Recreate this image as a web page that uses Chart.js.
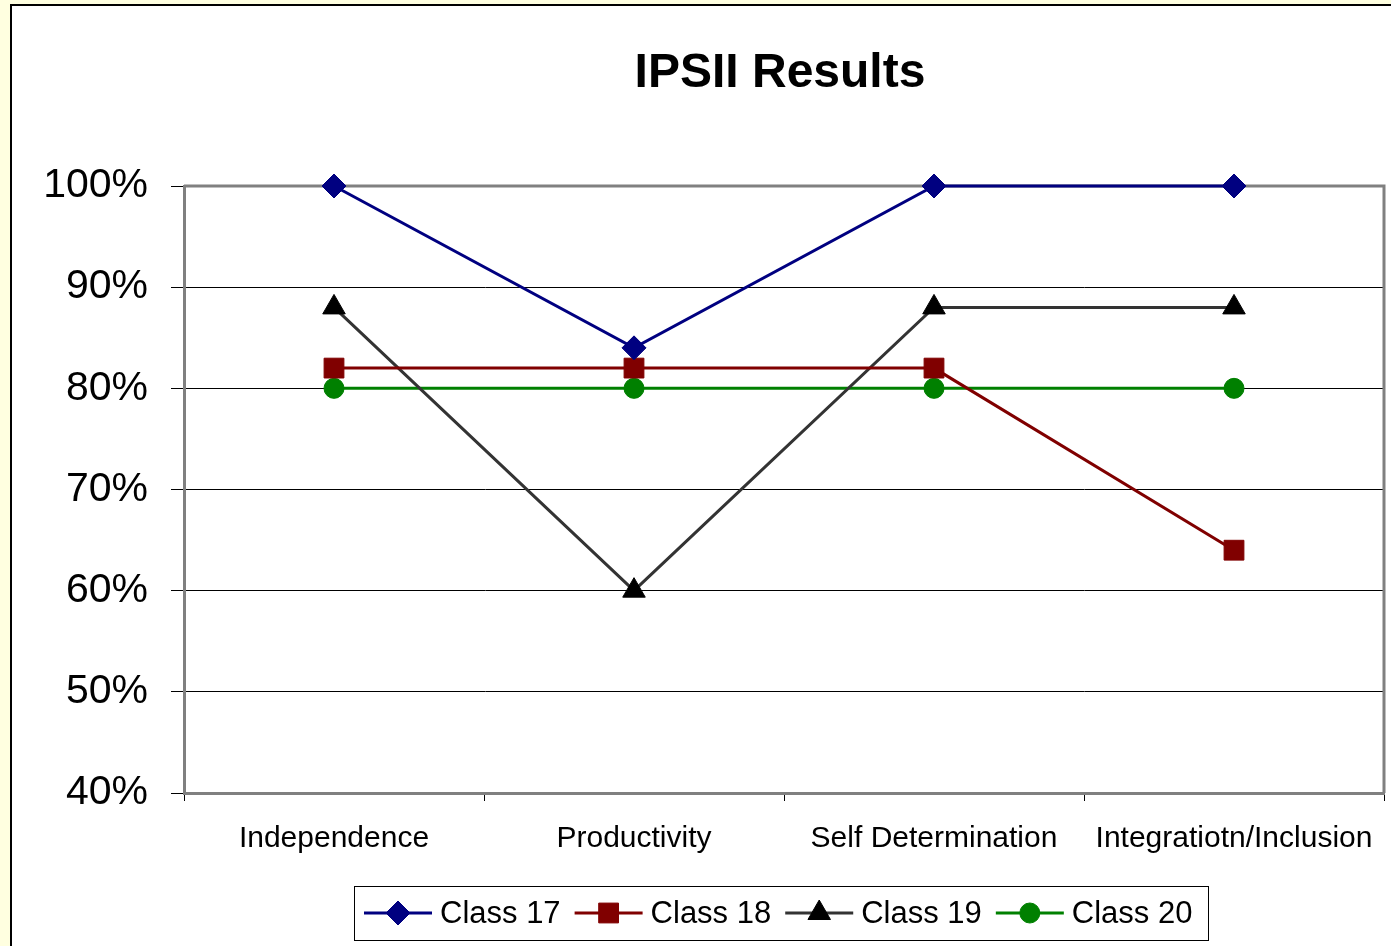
<!DOCTYPE html>
<html>
<head>
<meta charset="utf-8">
<script src="https://cdn.jsdelivr.net/npm/chart.js@4/dist/chart.umd.min.js"></script>
<style>
html,body{margin:0;padding:0;background:#FFFFE0;overflow:hidden;}
#wrap{position:absolute;left:0;top:0;width:1391px;height:946px;}
canvas{display:block;}
</style>
</head>
<body>
<div id="wrap"><canvas id="c" width="1391" height="946"></canvas></div>
<script>
const categories = ["Independence", "Productivity", "Self Determination", "Integratiotn/Inclusion"];
const class17 = [100, 84, 100, 100];
const class18 = [82, 82, 82, 64];
const class19 = [88, 60, 88, 88];
const class20 = [80, 80, 80, 80];
const seriesNames = ["Class 17", "Class 18", "Class 19", "Class 20"];
const yTicks = [40, 50, 60, 70, 80, 90, 100];
const chartTitle = "IPSII Results";

const FONT = "'Liberation Sans', Arial, sans-serif";

const frame = {
  id: 'frame',
  beforeDraw(chart) {
    const ctx = chart.ctx;
    ctx.save();
    ctx.fillStyle = '#FFFFE0';
    ctx.fillRect(0, 0, chart.width, chart.height);
    ctx.fillStyle = '#FFFFFF';
    ctx.fillRect(11, 5, chart.width - 11, chart.height - 5);
    ctx.strokeStyle = '#000000';
    ctx.lineWidth = 2;
    ctx.beginPath();
    ctx.moveTo(11, chart.height);
    ctx.lineTo(11, 5);
    ctx.lineTo(chart.width, 5);
    ctx.stroke();
    ctx.fillStyle = '#000000';
    ctx.font = 'bold 48px ' + FONT;
    ctx.textAlign = 'center';
    ctx.textBaseline = 'alphabetic';
    ctx.fillText(chartTitle, 780, 87);
    ctx.restore();
  },
  beforeDatasetsDraw(chart) {
    const ctx = chart.ctx, a = chart.chartArea;
    ctx.save();
    ctx.strokeStyle = '#808080';
    ctx.lineWidth = 3;
    ctx.beginPath();
    ctx.moveTo(a.left, a.top);
    ctx.lineTo(a.right, a.top);
    ctx.lineTo(a.right, a.bottom);
    ctx.stroke();
    ctx.restore();
  },
  afterDraw(chart) {
    const ctx = chart.ctx;
    ctx.save();
    const bx = 354, by = 886, bw = 854, bh = 54;
    ctx.strokeStyle = '#000000';
    ctx.lineWidth = 1;
    ctx.strokeRect(bx + 0.5, by + 0.5, bw, bh);
    ctx.font = '31px ' + FONT;
    ctx.textBaseline = 'middle';
    ctx.textAlign = 'left';
    const cy = by + bh / 2;
    let x = 364;
    chart.data.datasets.forEach(ds => {
      ctx.strokeStyle = ds.borderColor;
      ctx.lineWidth = 3;
      ctx.beginPath();
      ctx.moveTo(x, cy);
      ctx.lineTo(x + 68, cy);
      ctx.stroke();
      ctx.fillStyle = ds.pointBackgroundColor;
      ctx.strokeStyle = ds.pointBorderColor;
      ctx.lineWidth = 1;
      Chart.helpers.drawPoint(ctx, {pointStyle: ds.pointStyle, radius: ds.pointRadius, rotation: 0, borderWidth: 1}, x + 34, cy);
      ctx.fillStyle = '#000000';
      ctx.fillText(ds.label, x + 76, cy + 1);
      x += 76 + ctx.measureText(ds.label).width + 14;
    });
    ctx.restore();
  }
};

new Chart(document.getElementById('c'), {
  type: 'line',
  data: {
    labels: categories,
    datasets: [
      {label: seriesNames[0], data: class17, borderColor: '#000080', pointBackgroundColor: '#000080', pointBorderColor: '#000080', pointStyle: 'rectRot', pointRadius: 12},
      {label: seriesNames[1], data: class18, borderColor: '#800000', pointBackgroundColor: '#800000', pointBorderColor: '#800000', pointStyle: 'rect', pointRadius: 14},
      {label: seriesNames[2], data: class19, borderColor: '#333333', pointBackgroundColor: '#000000', pointBorderColor: '#000000', pointStyle: 'triangle', pointRadius: 13},
      {label: seriesNames[3], data: class20, borderColor: '#008000', pointBackgroundColor: '#008000', pointBorderColor: '#008000', pointStyle: 'circle', pointRadius: 10}
    ].map(d => Object.assign({borderWidth: 3, tension: 0, pointBorderWidth: 1, pointHoverRadius: d.pointRadius, clip: false}, d))
  },
  options: {
    responsive: false,
    animation: false,
    events: [],
    layout: {autoPadding: false, padding: {left: 11, right: 7, top: 186, bottom: 0}},
    plugins: {
      legend: {display: false},
      tooltip: {enabled: false},
      title: {display: false}
    },
    scales: {
      x: {
        type: 'category',
        offset: true,
        grid: {offset: true, drawOnChartArea: false, drawTicks: true, tickLength: 8, color: '#000000', lineWidth: 1},
        border: {display: true, color: '#808080', width: 3},
        ticks: {color: '#000000', font: {family: FONT, size: 30}, padding: 20, maxRotation: 0, autoSkip: false},
        afterFit(s) { s.height = 153; s.paddingLeft = 0; s.paddingRight = 0; }
      },
      y: {
        min: 40,
        max: 100,
        afterBuildTicks(s) { s.ticks = yTicks.map(v => ({value: v})); },
        grid: {drawOnChartArea: true, drawTicks: true, tickLength: 13, color: '#000000', lineWidth: 1},
        border: {display: true, color: '#808080', width: 3},
        ticks: {color: '#000000', font: {family: FONT, size: 41}, padding: 23, callback: v => v + '%'},
        afterFit(s) { s.width = 173; s.paddingTop = 0; s.paddingBottom = 0; }
      }
    }
  },
  plugins: [frame]
});
</script>
</body>
</html>
